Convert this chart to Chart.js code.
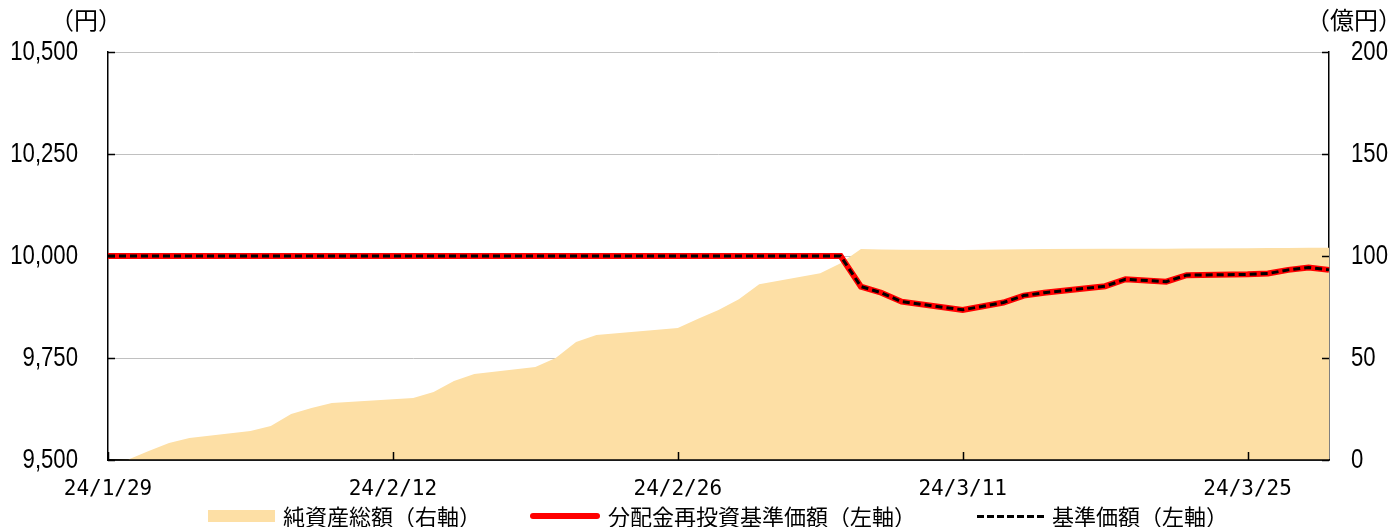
<!DOCTYPE html>
<html>
<head>
<meta charset="utf-8">
<script src="https://cdn.jsdelivr.net/npm/chart.js@4.4.1/dist/chart.umd.min.js"></script>
<style>
  html, body { margin: 0; padding: 0; background: #fff; }
  #wrap { position: relative; width: 1390px; height: 527px; overflow: hidden; }
  #chart { position: absolute; left: 0; top: 0; }
  .lg { position: absolute; top: 499px; height: 24px; line-height: 24px;
        font: 22px "Noto Sans CJK JP", sans-serif; color: #000; white-space: nowrap; }
  .sw { position: absolute; }
</style>
</head>
<body>
<div id="wrap">
  <canvas id="chart" width="1390" height="527"></canvas>
  <div class="sw" style="left:208px;top:510px;width:67px;height:12px;background:#FDDFA5"></div>
  <div class="lg" style="left:283px">純資産総額（右軸）</div>
  <div class="sw" style="left:530px;top:513px;width:70px;height:6px;background:#FF0000;border-radius:3px"></div>
  <div class="lg" style="left:608px">分配金再投資基準価額（左軸）</div>
  <div class="sw" style="left:977px;top:515px;width:70px;height:3px;background:repeating-linear-gradient(90deg,#000 0 7px,transparent 7px 10px)"></div>
  <div class="lg" style="left:1052px">基準価額（左軸）</div>
</div>
<script>
// calendar days 24/1/29 .. 24/3/29 (weekends / holidays have no value)
const dates = [
  "24/1/29","24/1/30","24/1/31","24/2/1","24/2/2","24/2/3","24/2/4",
  "24/2/5","24/2/6","24/2/7","24/2/8","24/2/9","24/2/10","24/2/11",
  "24/2/12","24/2/13","24/2/14","24/2/15","24/2/16","24/2/17","24/2/18",
  "24/2/19","24/2/20","24/2/21","24/2/22","24/2/23","24/2/24","24/2/25",
  "24/2/26","24/2/27","24/2/28","24/2/29","24/3/1","24/3/2","24/3/3",
  "24/3/4","24/3/5","24/3/6","24/3/7","24/3/8","24/3/9","24/3/10",
  "24/3/11","24/3/12","24/3/13","24/3/14","24/3/15","24/3/16","24/3/17",
  "24/3/18","24/3/19","24/3/20","24/3/21","24/3/22","24/3/23","24/3/24",
  "24/3/25","24/3/26","24/3/27","24/3/28","24/3/29"
];
const tickDates = ["24/1/29", "24/2/12", "24/2/26", "24/3/11", "24/3/25"];

// 純資産総額 (億円)
const netAssets = [
  0, 0.3, 4.4, 8.3, 10.8, null, null,
  14.2, 16.7, 22.5, 25.5, 27.9, null, null,
  null, 30.4, 33.3, 38.7, 42.2, null, null,
  45.6, 50.0, 57.8, 61.3, null, null, null,
  64.7, 69.3, 73.5, 78.8, 86.1, null, null,
  91.5, 96.4, 103.4, 103.2, 103.1, null, null,
  103.0, 103.1, 103.2, 103.3, 103.4, null, null,
  103.5, 103.6, null, 103.6, 103.7, null, null,
  103.8, 103.9, 103.9, 104.0, 104.0
];

// 分配金再投資基準価額 (円)
const reinvestPrice = [
  10000, 10000, 10000, 10000, 10000, null, null,
  10000, 10000, 10000, 10000, 10000, null, null,
  null, 10000, 10000, 10000, 10000, null, null,
  10000, 10000, 10000, 10000, null, null, null,
  10000, 10000, 10000, 10000, 10000, null, null,
  10000, 10000, 9925, 9910, 9888, null, null,
  9868, 9877, 9886, 9903, 9910, null, null,
  9926, 9943, null, 9937, 9953, null, null,
  9955, 9957, 9966, 9972, 9966
];

// 基準価額 (円)
const basePrice = [
  10000, 10000, 10000, 10000, 10000, null, null,
  10000, 10000, 10000, 10000, 10000, null, null,
  null, 10000, 10000, 10000, 10000, null, null,
  10000, 10000, 10000, 10000, null, null, null,
  10000, 10000, 10000, 10000, 10000, null, null,
  10000, 10000, 9925, 9910, 9888, null, null,
  9868, 9877, 9886, 9903, 9910, null, null,
  9926, 9943, null, 9937, 9953, null, null,
  9955, 9957, 9966, 9972, 9966
];

const dateFont = { family: "'DejaVu Sans Mono', monospace", size: 21 };
const NARROW = 0.82; // the original uses a narrow face for the numbers

// inward ticks, narrow value labels, unit labels above the axes
const extras = {
  id: "extras",
  afterDraw(chart) {
    const ctx = chart.ctx;
    const { left, right, bottom } = chart.chartArea;
    const x = chart.scales.x, y = chart.scales.y, y1 = chart.scales.y1;
    ctx.save();
    ctx.strokeStyle = "#000";
    ctx.lineWidth = 1.5;
    ctx.beginPath();
    // bottom axis line sits over the area fill
    ctx.moveTo(left, bottom); ctx.lineTo(right, bottom);
    y.ticks.forEach((t) => {
      const py = Math.round(y.getPixelForValue(t.value)) + 0.5;
      ctx.moveTo(left, py); ctx.lineTo(left + 7, py);
    });
    y1.ticks.forEach((t) => {
      const py = Math.round(y1.getPixelForValue(t.value)) + 0.5;
      ctx.moveTo(right - 7, py); ctx.lineTo(right, py);
    });
    dates.forEach((d, i) => {
      if (!tickDates.includes(d)) return;
      const px = Math.round(x.getPixelForValue(i)) + 0.5;
      ctx.moveTo(px, bottom); ctx.lineTo(px, bottom - 8);
    });
    ctx.stroke();

    ctx.fillStyle = "#000";
    ctx.textBaseline = "middle";
    ctx.font = '27px "Liberation Sans", Arial, sans-serif';
    ctx.save();
    ctx.scale(NARROW, 1);
    ctx.textAlign = "right";
    y.ticks.forEach((t) => {
      ctx.fillText(t.value.toLocaleString("en-US"), 78 / NARROW, y.getPixelForValue(t.value) + 1);
    });
    ctx.textAlign = "left";
    y1.ticks.forEach((t) => {
      ctx.fillText(String(t.value), 1351 / NARROW, y1.getPixelForValue(t.value) + 1);
    });
    ctx.restore();

    ctx.font = '24px "Noto Sans CJK JP", sans-serif';
    ctx.textAlign = "center";
    ctx.fillText("（円）", 86, 20);
    ctx.fillText("（億円）", 1354, 20);
    ctx.restore();
  },
};

new Chart(document.getElementById("chart"), {
  type: "line",
  data: {
    labels: dates,
    datasets: [
      {
        label: "基準価額（左軸）",
        data: basePrice,
        yAxisID: "y",
        borderColor: "#000",
        borderWidth: 3,
        borderDash: [7, 4],
        pointRadius: 0,
        spanGaps: true,
        fill: false,
        order: 1,
      },
      {
        label: "分配金再投資基準価額（左軸）",
        data: reinvestPrice,
        yAxisID: "y",
        borderColor: "#FF0000",
        borderWidth: 6,
        pointRadius: 0,
        spanGaps: true,
        fill: false,
        order: 2,
      },
      {
        label: "純資産総額（右軸）",
        data: netAssets,
        yAxisID: "y1",
        borderWidth: 0,
        borderColor: "rgba(0,0,0,0)",
        backgroundColor: "#FDDFA5",
        pointRadius: 0,
        spanGaps: true,
        fill: "origin",
        order: 3,
      },
    ],
  },
  options: {
    responsive: false,
    animation: false,
    layout: { padding: { top: 52, left: 0, right: 0, bottom: 0 } },
    plugins: { legend: { display: false }, tooltip: { enabled: false } },
    scales: {
      x: {
        offset: false,
        grid: { display: false, drawTicks: false },
        border: { color: "#000", width: 1.5 },
        ticks: {
          autoSkip: false,
          maxRotation: 0,
          padding: 17,
          color: "#000",
          font: dateFont,
          callback: (v, i) => (tickDates.includes(dates[i]) ? dates[i] : ""),
        },
        afterFit: (s) => { s.height = 67; },
      },
      y: {
        position: "left",
        min: 9500,
        max: 10500,
        grid: { color: "#c0c0c0", lineWidth: 1, drawTicks: false },
        border: { color: "#000", width: 1.5 },
        ticks: { stepSize: 250, display: false },
        afterFit: (s) => { s.width = 108; },
      },
      y1: {
        position: "right",
        min: 0,
        max: 200,
        grid: { drawOnChartArea: false, drawTicks: false },
        border: { color: "#000", width: 1.5 },
        ticks: { stepSize: 50, display: false },
        afterFit: (s) => { s.width = 61; },
      },
    },
  },
  plugins: [extras],
});
</script>
</body>
</html>
